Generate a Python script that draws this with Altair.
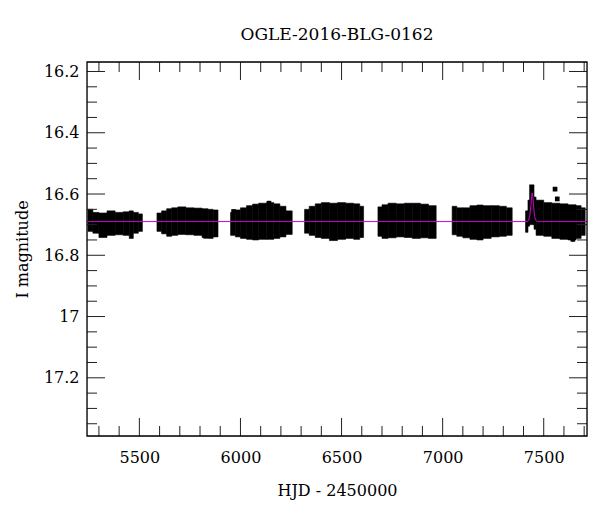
import altair as alt
import pandas as pd

TITLE = "OGLE-2016-BLG-0162"
X_TITLE = "HJD - 2450000"
Y_TITLE = "I magnitude"
X_DOMAIN = [5241, 7714]
Y_DOMAIN = [16.169, 17.39]

# Envelope of the dense photometry (with error bars), per time bin
bin_start = [5246, 5270, 5300, 5340, 5380, 5420, 5450, 5470, 5495,
             5587, 5610, 5635, 5660, 5690, 5730, 5770, 5810, 5840, 5865,
             5951, 5975, 6000, 6030, 6060, 6090, 6130, 6165, 6195, 6225,
             6317, 6340, 6370, 6400, 6440, 6480, 6520, 6560, 6590,
             6680, 6700, 6730, 6770, 6810, 6850, 6890, 6930,
             7047, 7070, 7100, 7135, 7170, 7200, 7240, 7280, 7315,
             7410, 7422, 7430, 7452, 7462, 7500, 7540, 7580, 7620, 7660, 7685]
bin_end = [5270, 5300, 5340, 5380, 5420, 5450, 5470, 5495, 5515,
           5610, 5635, 5660, 5690, 5730, 5770, 5810, 5840, 5865, 5889,
           5975, 6000, 6030, 6060, 6090, 6130, 6165, 6195, 6225, 6256,
           6340, 6370, 6400, 6440, 6480, 6520, 6560, 6590, 6609,
           6700, 6730, 6770, 6810, 6850, 6890, 6930, 6968,
           7070, 7100, 7135, 7170, 7200, 7240, 7280, 7315, 7344,
           7422, 7430, 7452, 7462, 7500, 7540, 7580, 7620, 7660, 7685, 7705]
bin_top = [16.650, 16.660, 16.662, 16.655, 16.660, 16.658, 16.655, 16.660, 16.665,
           16.662, 16.655, 16.648, 16.645, 16.642, 16.645, 16.646, 16.648, 16.650, 16.652,
           16.660, 16.652, 16.645, 16.638, 16.633, 16.630, 16.628, 16.632, 16.640, 16.655,
           16.650, 16.640, 16.632, 16.628, 16.630, 16.628, 16.630, 16.632, 16.640,
           16.642, 16.635, 16.630, 16.632, 16.630, 16.630, 16.633, 16.638,
           16.640, 16.645, 16.645, 16.638, 16.636, 16.638, 16.638, 16.640, 16.645,
           16.655, 16.620, 16.570, 16.610, 16.620, 16.628, 16.630, 16.632, 16.635, 16.638, 16.645]
bin_bot = [16.722, 16.728, 16.742, 16.735, 16.733, 16.735, 16.745, 16.728, 16.722,
           16.722, 16.730, 16.738, 16.735, 16.732, 16.733, 16.735, 16.742, 16.745, 16.740,
           16.735, 16.740, 16.745, 16.748, 16.750, 16.748, 16.748, 16.745, 16.740, 16.732,
           16.728, 16.735, 16.742, 16.745, 16.752, 16.748, 16.745, 16.748, 16.742,
           16.738, 16.745, 16.743, 16.740, 16.742, 16.745, 16.743, 16.745,
           16.733, 16.738, 16.743, 16.748, 16.750, 16.745, 16.740, 16.738, 16.735,
           16.725, 16.705, 16.700, 16.715, 16.735, 16.738, 16.745, 16.748, 16.750, 16.745, 16.735]

# Individual isolated measurements
pt_hjd = [5966, 5828, 7556, 7567, 6141, 7644]
pt_mag = [16.657, 16.738, 16.584, 16.616, 16.630, 16.748]
pt_err = [0.006, 0.006, 0.007, 0.007, 0.008, 0.008]

# Microlensing model curve
model_hjd = [5241, 7420, 7425, 7432, 7437, 7441, 7443, 7446, 7450, 7455, 7462, 7470, 7714]
model_mag = [16.690, 16.690, 16.686, 16.668, 16.635, 16.603, 16.597, 16.608, 16.642, 16.674, 16.687, 16.690, 16.690]

# Axis ticks
x_major = [5500, 6000, 6500, 7000, 7500]
x_minor = [5300, 5400, 5600, 5700, 5800, 5900, 6100, 6200, 6300, 6400, 6600, 6700,
           6800, 6900, 7100, 7200, 7300, 7400, 7600, 7700]
y_major = [16.2, 16.4, 16.6, 16.8, 17.0, 17.2]
y_minor = [16.25, 16.3, 16.35, 16.45, 16.5, 16.55, 16.65, 16.7, 16.75, 16.85, 16.9,
           16.95, 17.05, 17.1, 17.15, 17.25, 17.3, 17.35]

W, H = 500, 374
FONT = "DejaVu Serif"
MAJ, MIN = 18, 10
TICK_COLOR = "#222222"

xs = alt.Scale(domain=X_DOMAIN, nice=False, zero=False)
ys = alt.Scale(domain=Y_DOMAIN, nice=False, zero=False, reverse=True)

bins = pd.DataFrame({"x0": bin_start, "x1": bin_end, "top": bin_top, "bot": bin_bot})
pts = pd.DataFrame({"x": pt_hjd, "y": pt_mag, "e": pt_err})
pts["lo"] = pts["y"] - pts["e"]
pts["hi"] = pts["y"] + pts["e"]
model = pd.DataFrame({"x": model_hjd, "y": model_mag})

XA = alt.Axis(values=x_major, format="d", ticks=False, tickSize=0, domain=False, grid=False,
              labelFont=FONT, labelFontSize=16, labelColor="black", labelPadding=13,
              title=X_TITLE, titleFont=FONT, titleFontSize=16, titleFontWeight="normal",
              titleColor="black", titleX=W / 2, titleY=54, titleBaseline="middle")
YA = alt.Axis(values=y_major, format="~g", ticks=False, tickSize=0, domain=False, grid=False,
              labelFont=FONT, labelFontSize=16, labelColor="black", labelPadding=8,
              title=Y_TITLE, titleFont=FONT, titleFontSize=16, titleFontWeight="normal",
              titleColor="black", titleX=-65, titleY=H / 2, titleAngle=-90,
              titleBaseline="middle", titleAlign="center")


def X(field):
    return alt.X(field, scale=xs, axis=XA, title=X_TITLE)


def Y(field):
    return alt.Y(field, scale=ys, axis=YA, title=Y_TITLE)


blob = alt.Chart(bins).mark_rect(color="black", stroke="black", strokeWidth=0.6).encode(
    x=X("x0:Q"), x2="x1:Q", y=Y("top:Q"), y2="bot:Q",
)

pt_bars = alt.Chart(pts).mark_rule(color="black", strokeWidth=1).encode(
    x=X("x:Q"), y=Y("lo:Q"), y2="hi:Q",
)
pt_marks = alt.Chart(pts).mark_square(color="black", size=22, opacity=1).encode(
    x=X("x:Q"), y=Y("y:Q"),
)

model_line = alt.Chart(model).mark_line(color="#cc00cc", strokeWidth=1).encode(
    x=X("x:Q"), y=Y("y:Q"),
)


def xticks(vals, length):
    d = pd.DataFrame({"v": vals})
    bottom = alt.Chart(d).mark_rule(color=TICK_COLOR, strokeWidth=1).encode(
        x=X("v:Q"), y=alt.value(H), y2=alt.value(H - length))
    top = alt.Chart(d).mark_rule(color=TICK_COLOR, strokeWidth=1).encode(
        x=X("v:Q"), y=alt.value(0), y2=alt.value(length))
    return [bottom, top]


def yticks(vals, length):
    d = pd.DataFrame({"v": vals})
    left = alt.Chart(d).mark_rule(color=TICK_COLOR, strokeWidth=1).encode(
        y=Y("v:Q"), x=alt.value(0), x2=alt.value(length))
    right = alt.Chart(d).mark_rule(color=TICK_COLOR, strokeWidth=1).encode(
        y=Y("v:Q"), x=alt.value(W), x2=alt.value(W - length))
    return [left, right]


# frame
frame_df = pd.DataFrame({"x0": [X_DOMAIN[0]], "x1": [X_DOMAIN[1]], "y0": [Y_DOMAIN[0]], "y1": [Y_DOMAIN[1]]})
frame = alt.Chart(frame_df).mark_rect(fill=None, fillOpacity=0, stroke="black", strokeWidth=1.3).encode(
    x=X("x0:Q"), x2="x1:Q", y=Y("y0:Q"), y2="y1:Q")

layers = [blob, pt_bars, pt_marks, model_line]
layers += xticks(x_major, MAJ) + xticks(x_minor, MIN)
layers += yticks(y_major, MAJ) + yticks(y_minor, MIN)
layers += [frame]

chart = alt.layer(*layers).properties(
    width=W, height=H,
    title=alt.TitleParams(TITLE, font=FONT, fontSize=17, fontWeight="normal", color="black",
                          anchor="middle", offset=17),
    autosize=alt.AutoSizeParams(type="none"),
    padding={"left": 79, "top": 54, "right": 5, "bottom": 70},
).configure_view(stroke=None).configure(background="white")

chart.save("out.html", embed_options={"renderer": "svg", "actions": False})
